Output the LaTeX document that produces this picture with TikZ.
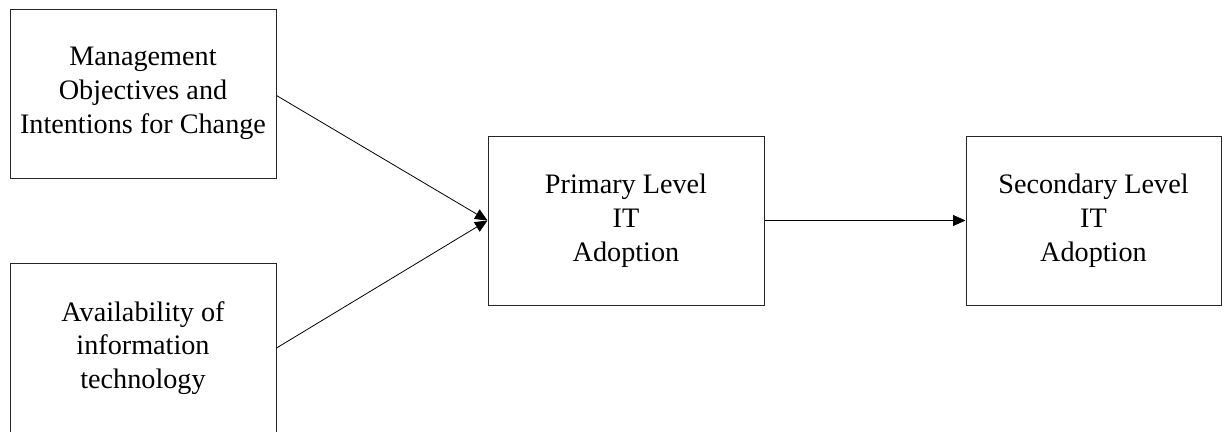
\documentclass[tikz,border=0pt]{standalone}
\usepackage{fontspec}
\setmainfont{Liberation Serif}
\usetikzlibrary{arrows.meta}
\begin{document}
\begin{tikzpicture}[x=1pt,y=-1pt,
  box/.style={draw=black!85,line width=1pt,inner sep=0pt,align=center,
    font=\fontsize{28.2}{33.8}\selectfont},
  conn/.style={draw=black,line width=0.8pt,-{Triangle[length=12.5pt,width=11pt]}}]
\useasboundingbox (0,0) rectangle (1228,431);
\node[box,minimum width=266pt,minimum height=169pt] (A) at (143,93.5) {Management\\Objectives and\\Intentions for Change};
\node[box,minimum width=266pt,minimum height=170pt] (B) at (143,348) {Availability of\\information\\technology};
\node[box,minimum width=276pt,minimum height=169pt] (C) at (626,220.5) {Primary Level\\IT\\Adoption};
\node[box,minimum width=255pt,minimum height=169pt] (D) at (1093.5,220.5) {Secondary Level\\IT\\Adoption};
\draw[conn] ([yshift=-2pt]A.east) -- (C.west);
\draw[conn] (B.east) -- (C.west);
\draw[conn] (C.east) -- (D.west);
\end{tikzpicture}
\end{document}
